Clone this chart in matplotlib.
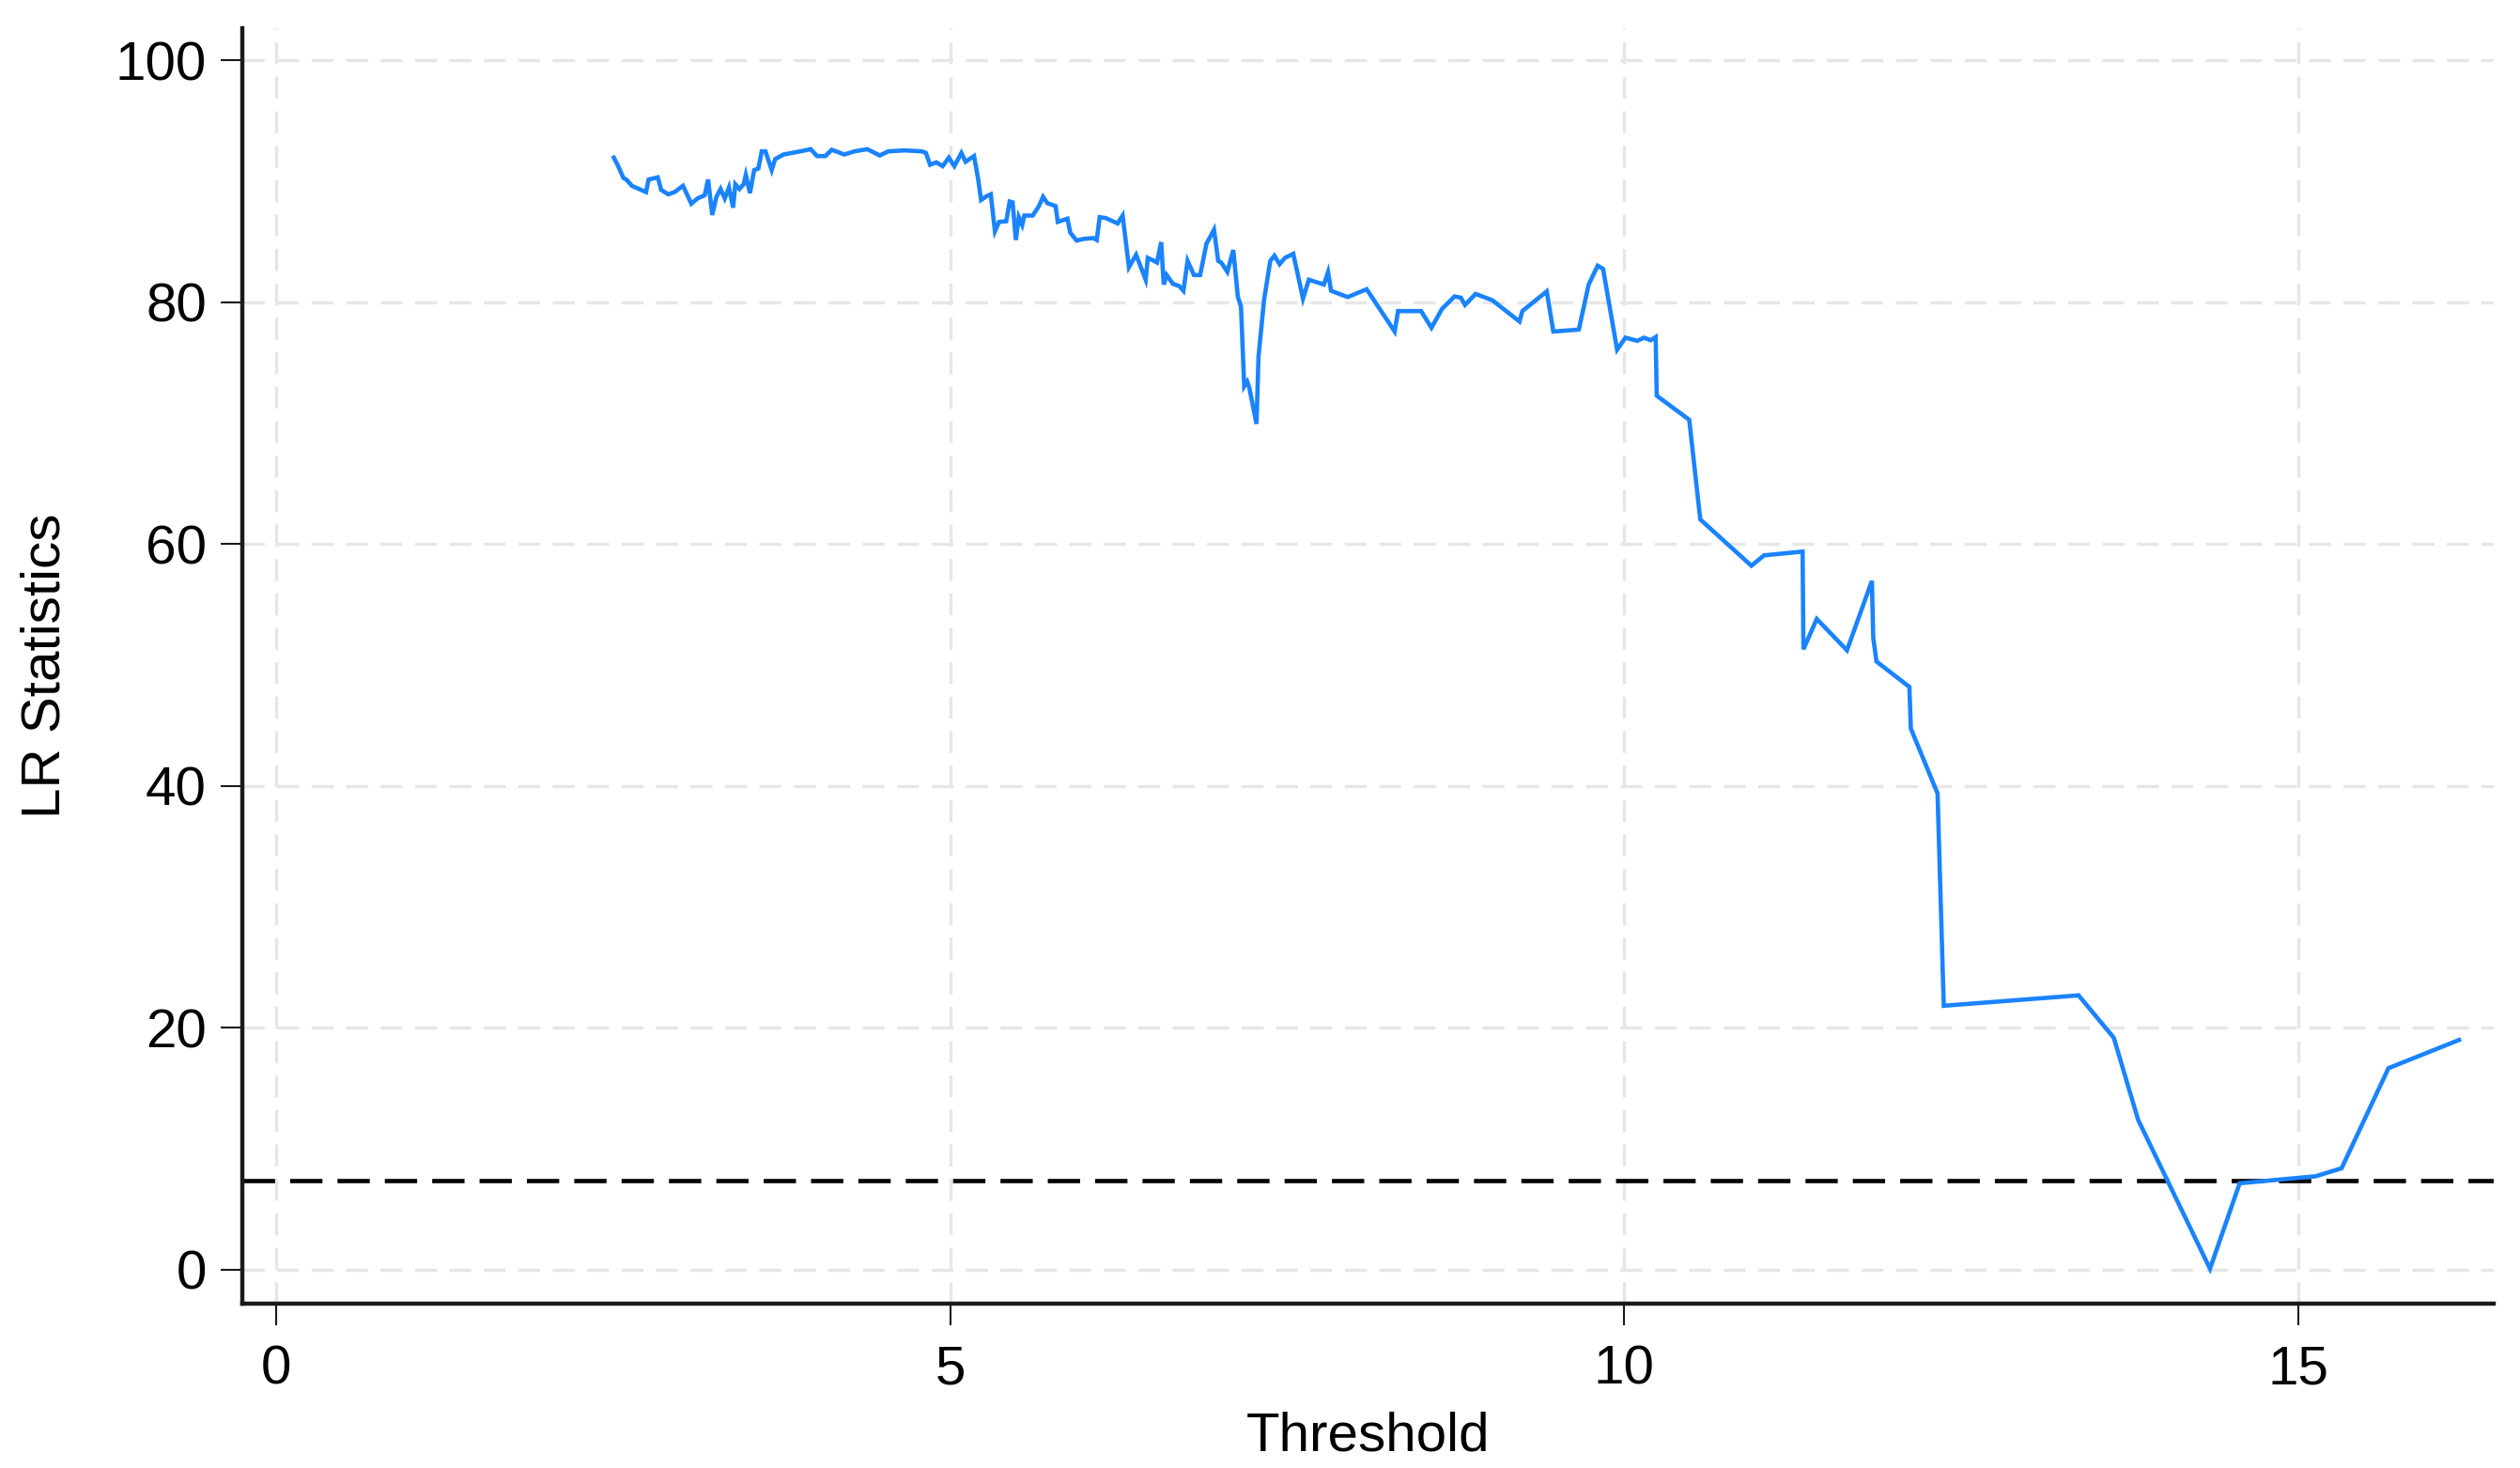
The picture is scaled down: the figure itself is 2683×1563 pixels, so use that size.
import matplotlib
matplotlib.use("Agg")
import matplotlib.pyplot as plt

# LR statistic against threshold value
threshold = [
    2.505, 2.536, 2.576, 2.598, 2.639, 2.691, 2.744, 2.763, 2.831, 2.856,
    2.909, 2.955, 3.018, 3.080, 3.126, 3.179, 3.204, 3.235, 3.266, 3.297,
    3.328, 3.359, 3.390, 3.406, 3.437, 3.468, 3.484, 3.515, 3.546, 3.577,
    3.602, 3.630, 3.676, 3.701, 3.763, 3.888, 3.965, 4.012, 4.074, 4.121,
    4.214, 4.291, 4.385, 4.478, 4.540, 4.664, 4.789, 4.820, 4.851, 4.897,
    4.944, 4.990, 5.031, 5.083, 5.114, 5.177, 5.208, 5.229, 5.270, 5.301,
    5.332, 5.363, 5.416, 5.441, 5.463, 5.487, 5.509, 5.534, 5.550, 5.612,
    5.658, 5.689, 5.720, 5.782, 5.798, 5.870, 5.891, 5.938, 5.984, 6.062,
    6.087, 6.109, 6.155, 6.242, 6.279, 6.326, 6.379, 6.450, 6.466, 6.512,
    6.534, 6.565, 6.584, 6.606, 6.652, 6.699, 6.730, 6.761, 6.808, 6.854,
    6.901, 6.957, 6.988, 7.010, 7.056, 7.100, 7.134, 7.157, 7.172, 7.181,
    7.203, 7.219, 7.272, 7.287, 7.328, 7.374, 7.405, 7.443, 7.483, 7.545,
    7.617, 7.660, 7.772, 7.803, 7.825, 7.949, 8.089, 8.297, 8.322, 8.493,
    8.570, 8.648, 8.741, 8.788, 8.819, 8.897, 9.021, 9.223, 9.244, 9.425,
    9.474, 9.663, 9.736, 9.803, 9.843, 9.947, 10.009, 10.097, 10.146, 10.196,
    10.233, 10.241, 10.482, 10.564, 10.943, 11.037, 11.323, 11.329, 11.428, 11.652,
    11.837, 11.847, 11.871, 12.115, 12.126, 12.324, 12.370, 13.370, 13.631, 13.812,
    14.345, 14.565, 15.129, 15.321, 15.669, 16.192,
]
lr_stat = [
    91.97, 91.30, 90.29, 90.16, 89.64, 89.38, 89.12, 90.16, 90.34, 89.30,
    88.94, 89.12, 89.64, 88.16, 88.60, 88.86, 90.16, 87.23, 88.73, 89.38,
    88.60, 89.51, 87.83, 89.77, 89.38, 89.77, 90.55, 89.04, 90.94, 91.07,
    92.49, 92.49, 90.94, 91.84, 92.23, 92.49, 92.67, 92.10, 92.10, 92.62,
    92.23, 92.49, 92.67, 92.15, 92.49, 92.57, 92.49, 92.36, 91.38, 91.58,
    91.27, 91.97, 91.27, 92.36, 91.63, 92.10, 90.16, 88.47, 88.78, 88.94,
    85.88, 86.66, 86.71, 88.34, 88.27, 85.16, 87.05, 86.40, 87.18, 87.18,
    87.96, 88.73, 88.21, 87.96, 86.66, 86.92, 85.76, 85.11, 85.24, 85.32,
    85.16, 87.05, 86.97, 86.53, 87.18, 82.91, 83.94, 81.87, 83.68, 83.43,
    83.30, 84.98, 81.48, 82.26, 81.53, 81.35, 80.96, 83.43, 82.26, 82.26,
    84.85, 86.01, 83.43, 83.30, 82.52, 84.33, 80.45, 79.66, 75.52, 73.06,
    73.45, 72.93, 69.95, 75.52, 80.18, 83.42, 83.86, 83.16, 83.68, 84.02,
    80.31, 81.87, 81.48, 82.51, 80.96, 80.44, 81.09, 77.59, 79.28, 79.28,
    77.90, 79.46, 80.49, 80.39, 79.79, 80.70, 80.18, 78.42, 79.28, 80.91,
    77.59, 77.75, 81.48, 83.03, 82.77, 76.09, 77.08, 76.82, 77.08, 76.87,
    77.13, 72.28, 70.29, 62.05, 58.22, 59.08, 59.39, 51.31, 53.82, 51.23,
    56.97, 52.25, 50.30, 48.20, 44.75, 39.39, 21.83, 22.69, 19.19, 12.39,
    0.08, 7.15, 7.73, 8.39, 16.67, 19.00,
]
critical_value = 7.35

x_ticks = [0, 5, 10, 15]
y_ticks = [0, 20, 40, 60, 80, 100]

plt.rcParams['font.family'] = ['Liberation Sans', 'DejaVu Sans']

fig = plt.figure(figsize=(26.83, 15.63), dpi=100)
ax = fig.add_axes([0.0962, 0.112, 0.8934, 0.869])

ax.plot(threshold, lr_stat, color='#1a83ff', lw=3.3, solid_joinstyle='miter', zorder=3)
ax.axhline(critical_value, color='black', lw=3.3, dashes=(7.5, 3.5), zorder=2)

ax.set_xlim(-0.25, 16.45)
ax.set_ylim(-2.8, 102.7)
ax.set_xticks(x_ticks)
ax.set_yticks(y_ticks)

ax.grid(True, color='#e6e6e6', lw=2.4, dashes=(7, 4))
ax.set_axisbelow(True)

for side in ['top', 'right']:
    ax.spines[side].set_visible(False)
for side in ['left', 'bottom']:
    ax.spines[side].set_linewidth(3.2)
    ax.spines[side].set_color('#1a1a1a')

ax.tick_params(axis='both', labelsize=42, length=16.5, width=1.5, color='#1a1a1a')
ax.tick_params(axis='y', pad=11)
ax.tick_params(axis='x', pad=15)

ax.set_xlabel('Threshold', fontsize=42, labelpad=12)
ax.set_ylabel('LR Statistics', fontsize=42, labelpad=34)

fig.savefig('out.png', dpi=100)
